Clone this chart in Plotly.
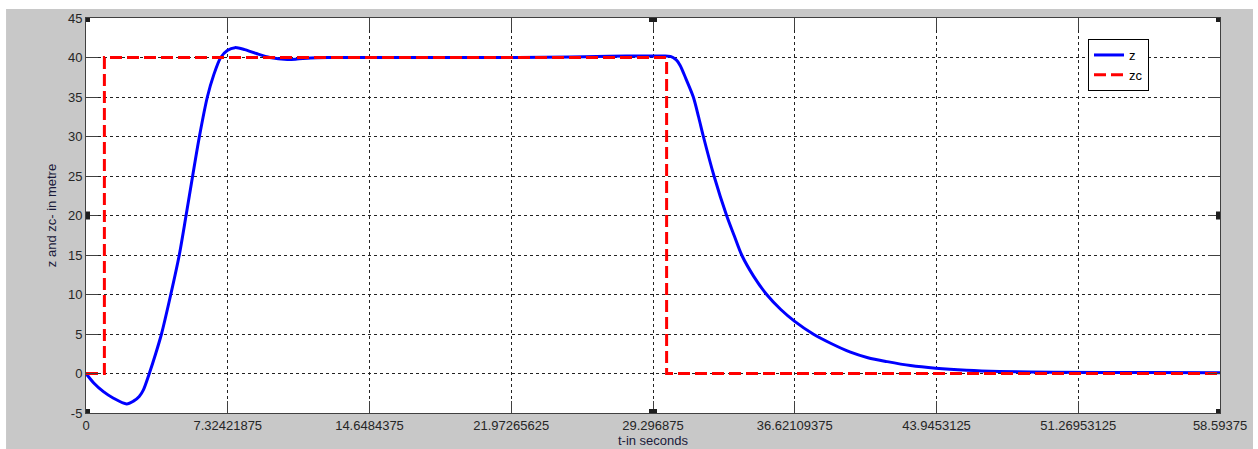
import plotly.graph_objects as go

# ---- data ----
t_z = [0, 0.4, 0.9, 1.4, 2.1, 2.45, 2.75, 2.96, 3.27, 3.6, 3.9, 4.38, 4.82, 5.17, 5.51, 5.86,
       6.27, 6.6, 6.96, 7.3, 7.7, 8.2, 8.8, 9.5, 10.4, 10.9, 11.6, 12.5, 15, 20, 25,
       27, 29, 29.8, 30.2, 30.5, 30.7, 31.0, 31.38, 31.65, 31.9, 32.45, 33.1, 33.5, 33.88, 34.5, 35.17, 35.9, 36.62,
       37.57, 38.5, 39.5, 40.4, 41.4, 42.6, 43.9, 45.5, 47.2, 50, 55, 58.59375]
z = [0, -1.2, -2.3, -3.1, -3.85, -3.5, -2.9, -2.1, 0, 2.5, 5, 10, 15, 20, 25, 30,
     35, 37.8, 40, 40.9, 41.25, 41.0, 40.5, 40.0, 39.75, 39.8, 39.95, 40.0, 40.0, 40.0, 40.05,
     40.15, 40.2, 40.2, 40.15, 39.7, 39.0, 37.3, 35, 32.5, 30, 25, 20, 17.4, 15, 12.3, 10, 8.1, 6.6,
     5, 3.8, 2.7, 2.0, 1.5, 1.0, 0.66, 0.4, 0.25, 0.15, 0.12, 0.1]

t_zc = [0, 0.95, 0.95, 30.0, 30.0, 58.59375]
zc = [0, 0, 40, 40, 0, 0]

x_tickvals = [0, 7.32421875, 14.6484375, 21.97265625, 29.296875, 36.62109375,
              43.9453125, 51.26953125, 58.59375]
x_ticktext = ["0", "7.32421875", "14.6484375", "21.97265625", "29.296875",
              "36.62109375", "43.9453125", "51.26953125", "58.59375"]
y_tickvals = [-5, 0, 5, 10, 15, 20, 25, 30, 35, 40, 45]
y_ticktext = ["-5", "0", "5", "10", "15", "20", "25", "30", "35", "40", "45"]

FONT = "Arial, Liberation Sans, sans-serif"
AX = "#404040"

fig = go.Figure()
fig.add_trace(go.Scatter(x=t_z, y=z, mode="lines", name="z",
                         line=dict(color="#0000ff", width=3, shape="spline", smoothing=0.8)))
fig.add_trace(go.Scatter(x=t_zc, y=zc, mode="lines", name="zc",
                         line=dict(color="#ff0000", width=3, dash="12px,5px")))

# figure (gray) background and white axes area
shapes = [
    dict(type="rect", xref="paper", yref="paper", x0=-0.0705, x1=1.0291, y0=-0.1, y1=1.0228,
         fillcolor="#c8c8c8", line=dict(width=0), layer="below"),
    dict(type="rect", xref="paper", yref="paper", x0=0, x1=1, y0=0, y1=1,
         fillcolor="white", line=dict(width=0), layer="below"),
]
# edit handles
hx = [0, 29.296875, 58.59375, 0, 58.59375, 0, 29.296875, 58.59375]
hy = [45, 45, 45, 20, 20, -5, -5, -5]
for xx, yy in zip(hx, hy):
    shapes.append(dict(type="rect", xref="x", yref="y", xsizemode="pixel", ysizemode="pixel",
                       xanchor=xx, yanchor=yy, x0=-4, x1=4, y0=-4, y1=4,
                       fillcolor="#1e1e1e", line=dict(width=0), layer="above"))

fig.update_layout(
    width=1258, height=449,
    margin=dict(l=86, r=38, t=18, b=36, autoexpand=False),
    paper_bgcolor="white", plot_bgcolor="white",
    font=dict(family=FONT, size=13, color="#262626"),
    shapes=shapes,
    showlegend=True,
    legend=dict(x=0.8836, y=0.9468, xanchor="left", yanchor="top",
                bgcolor="white", bordercolor="black", borderwidth=1,
                font=dict(family=FONT, size=13, color="black"),
                tracegroupgap=0, itemwidth=30),
    xaxis=dict(range=[0, 58.59375], tickvals=x_tickvals, ticktext=x_ticktext,
               showgrid=True, gridcolor="#222222", gridwidth=1, griddash="3px,3px",
               showline=True, linecolor=AX, linewidth=1, mirror="ticks",
               ticks="inside", ticklen=12, tickcolor=AX, zeroline=False, automargin=False,
               title=dict(text="t-in seconds", standoff=2, font=dict(size=13, color="#1a1a3a"))),
    yaxis=dict(range=[-5, 45], tickvals=y_tickvals, ticktext=y_ticktext,
               showgrid=True, gridcolor="#222222", gridwidth=1, griddash="3px,3px",
               showline=True, linecolor=AX, linewidth=1, mirror="ticks",
               ticks="inside", ticklen=12, tickcolor=AX, zeroline=False, automargin=False,
               title=dict(text="z and zc- in metre", standoff=8, font=dict(size=13, color="#1a1a3a"))),
)

fig.write_html("out.html")
